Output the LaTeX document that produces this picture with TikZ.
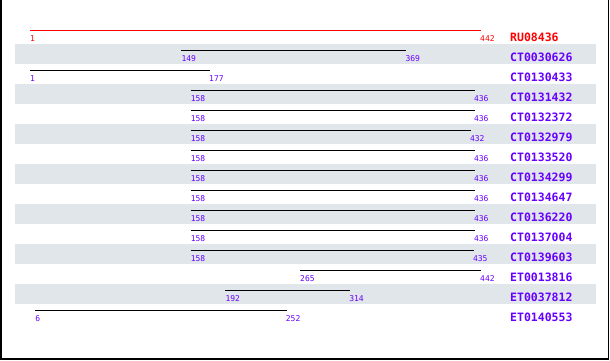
\documentclass[tikz,border=0pt]{standalone}
\usepackage{fontspec}
\setmonofont{DejaVu Sans Mono}
\usetikzlibrary{positioning}
\definecolor{queryred}{RGB}{255, 0, 0}
\definecolor{hitviolet}{RGB}{102, 0, 255}
\definecolor{bandgray}{RGB}{225, 230, 234}

\begin{document}
\begin{tikzpicture}[x=1pt, y=-1pt,
    bar/.style={black, line width=1.1pt},
    posnum/.style={anchor=west, inner sep=0pt, text=hitviolet, font=\ttfamily\fontsize{8}{8}\selectfont},
    hitname/.style={anchor=west, inner sep=0pt, text=hitviolet, font=\ttfamily\bfseries\fontsize{11.5}{11.5}\selectfont}]
  \useasboundingbox (0,0) rectangle (610,360);
  % striped rows
  \foreach \i in {1,3,...,13}
    \fill[bandgray] (15,24+20*\i) rectangle (596,44+20*\i);
  \draw[line width=1.6pt] (1,-5) rectangle (608.6,358.9);

  % query
  \coordinate (s0) at (30,30.3);
  \coordinate (e0) at (481,30.3);
  \draw[queryred, line width=1.1pt] (s0) -- (e0);
  \node[posnum, text=queryred] (a0) at (30,39) {1};
  \node[posnum, text=queryred] (b0) at (480,39) {442};
  \node[hitname, text=queryred] (n0) at (510,37) {RU08436};

  % hits
  \foreach \i/\nm/\a/\b in {1/CT0030626/149/369, 2/CT0130433/1/177,
      3/CT0131432/158/436, 4/CT0132372/158/436, 5/CT0132979/158/432,
      6/CT0133520/158/436, 7/CT0134299/158/436, 8/CT0134647/158/436,
      9/CT0136220/158/436, 10/CT0137004/158/436, 11/CT0139603/158/435,
      12/ET0013816/265/442, 13/ET0037812/192/314, 14/ET0140553/6/252} {
    \pgfmathsetmacro\xa{29+1.0227*\a}
    \pgfmathsetmacro\xb{29+1.0227*\b}
    \coordinate (s\i) at (\xa,30.3+20*\i);
    \coordinate (e\i) at (\xb,30.3+20*\i);
    \draw[bar] (s\i) -- (e\i);
    \node[posnum] (a\i) at (\xa,39+20*\i) {\a};
    \node[posnum] (b\i) at (\xb-1,39+20*\i) {\b};
    \node[hitname] (n\i) at (510,37+20*\i) {\nm};
  }
\end{tikzpicture}
\end{document}
